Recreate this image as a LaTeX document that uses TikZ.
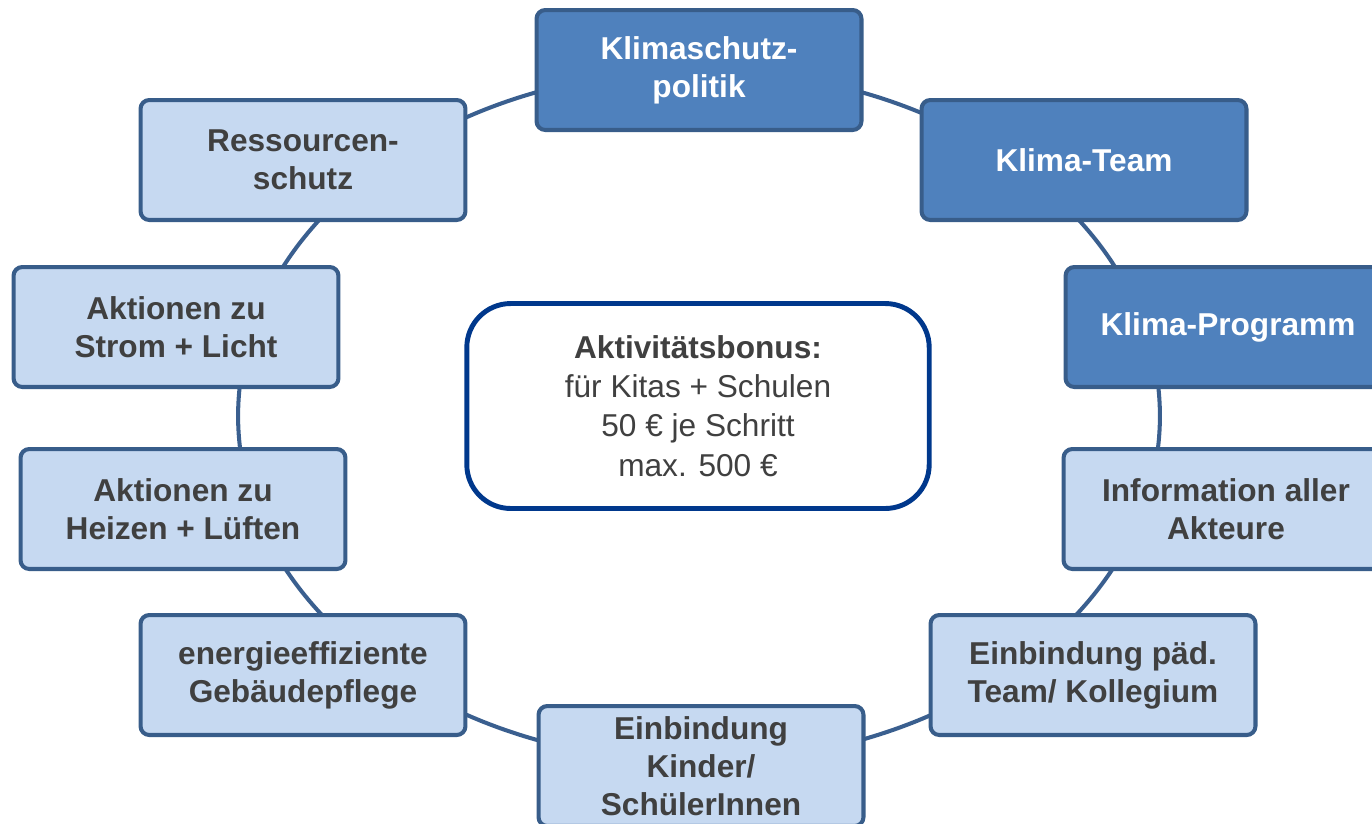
\documentclass[tikz,border=0pt]{standalone}
\usepackage{fontspec}
\setmainfont{Liberation Sans}
\usetikzlibrary{positioning}

\definecolor{darkfill}{RGB}{79,129,189}
\definecolor{lightfill}{RGB}{198,217,241}
\definecolor{boxline}{RGB}{56,93,138}
\definecolor{ringline}{RGB}{58,95,143}
\definecolor{bonusline}{RGB}{0,56,140}
\definecolor{textgray}{RGB}{64,64,64}

\tikzset{
  stepdark/.style={draw=boxline, line width=2.3pt, fill=darkfill, rounded corners=5pt,
    minimum width=6.5cm, minimum height=2.4cm, align=center, text=white,
    font=\fontsize{18}{21.6}\selectfont\bfseries},
  steplight/.style={stepdark, fill=lightfill, text=textgray},
  bonusbox/.style={draw=bonusline, line width=2.8pt, fill=white, rounded corners=25pt,
    minimum width=9.25cm, minimum height=4.1cm, align=center, text=textgray,
    font=\fontsize{18}{22.4}\selectfont}
}

\begin{document}
\begin{tikzpicture}[x=0.02cm, y=-0.02cm]
\useasboundingbox (0,0) rectangle (1372,823);
\clip (0,0) rectangle (1372,823);
\coordinate (ring) at (699,416);
\draw[ringline, line width=2.3pt] (ring) ellipse [x radius=9.22cm, y radius=6.92cm];

\node[bonusbox] (bonus) at (698,406) {\textbf{Aktivitätsbonus:}\\für Kitas + Schulen\\50 € je Schritt\\max. 500 €};

\node[stepdark] (kpolitik) at (699,70) {Klimaschutz-\\politik};
\node[stepdark] (kteam) at (1084,160) {Klima-Team};
\node[stepdark] (kprogramm) at (1228,327) {Klima-Programm};
\node[steplight] (info) at (1226,509) {Information aller\\Akteure};
\node[steplight] (paedteam) at (1093,675) {Einbindung päd.\\Team/ Kollegium};
\node[steplight] (kinder) at (701,766) {Einbindung\\Kinder/\\SchülerInnen};
\node[steplight] (gebaeude) at (303,675) {energieeffiziente\\Gebäudepflege};
\node[steplight] (heizen) at (183,509) {Aktionen zu\\Heizen + Lüften};
\node[steplight] (strom) at (176,327) {Aktionen zu\\Strom + Licht};
\node[steplight] (ressourcen) at (303,160) {Ressourcen-\\schutz};
\end{tikzpicture}
\end{document}
